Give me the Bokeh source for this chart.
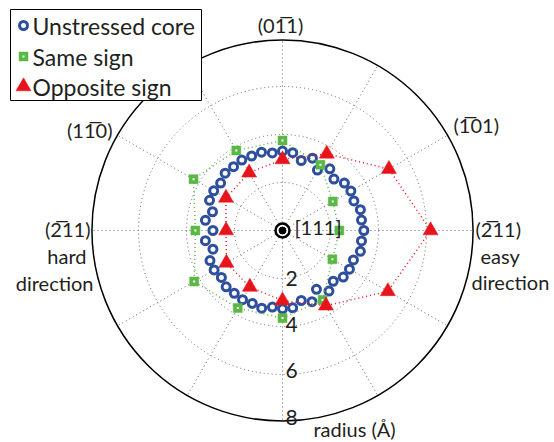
import numpy as np
from bokeh.plotting import figure
from bokeh.models import Range1d
from bokeh.core.properties import value
from bokeh.embed import file_html
from bokeh.resources import INLINE

# ---------------- data (angles in degrees, radii in Å) ----------------
core_angle = [0, 7.5, 15, 22.5, 30, 37.5, 45, 52.5, 60, 67.5, 75, 82.5,
              90, 97.5, 105, 112.5, 120, 127.5, 135, 142.5, 150, 157.5, 165, 172.5,
              180, 187.5, 195, 202.5, 210, 217.5, 225, 232.5, 240, 247.5, 255, 262.5,
              270, 277.5, 285, 292.5, 300, 307.5, 315, 322.5, 330, 337.5, 345, 352.5]
core_radius = [3.39, 3.32, 3.36, 3.22, 3.29, 3.25, 3.03, 3.24, 2.91, 3.26, 3.02, 3.27,
               3.31, 3.26, 3.38, 3.36, 3.39, 3.35, 3.38, 3.25, 3.31, 3.29, 3.02, 3.24,
               2.90, 3.24, 3.00, 3.27, 3.29, 3.21, 3.32, 3.30, 3.33, 3.29, 3.35, 3.22,
               3.26, 3.25, 3.02, 3.21, 2.83, 3.18, 2.99, 3.19, 3.22, 3.20, 3.36, 3.32]

sign_angle = [0, 30, 60, 90, 120, 150, 180, 210, 240, 270, 300, 330]
same_radius = [2.37, 2.42, 3.16, 3.75, 3.85, 4.28, 3.63, 4.25, 3.73, 3.65, 3.34, 2.40]
opp_radius = [6.17, 5.12, 3.69, 2.96, 2.78, 2.72, 2.35, 2.70, 2.72, 2.92, 3.62, 5.07]

ring_radii = [2, 4, 6]
ring_labels = ["2", "4", "6", "8"]
ring_label_r = [2, 4, 6, 8]
r_max = 8
spoke_angles = [0, 30, 60, 90, 120, 150, 180, 210, 240, 270, 300, 330]

legend_labels = ["Unstressed core", "Same sign", "Opposite sign"]

BLUE = "#2d4f9e"
GREEN = "#5cb846"
RED = "#e8141c"
TXT = "#231f20"
FONT = "Lato"

# ---------------- geometry helpers ----------------
W, H = 554, 442
CX, CY, S = 282, 230, 24.0   # centre (px) and px per Å


def px(xp):
    return (xp - CX) / S


def py(yp):
    return (CY - yp) / S


def polar(ang, r):
    a = np.radians(np.asarray(ang, dtype=float))
    r = np.asarray(r, dtype=float)
    return r * np.cos(a), r * np.sin(a)


p = figure(width=W, height=H, output_backend="svg", toolbar_location=None,
           x_range=Range1d(-CX / S, (W - CX) / S),
           y_range=Range1d(-(H - CY) / S, CY / S),
           min_border=0)
p.axis.visible = False
p.grid.visible = False
p.outline_line_color = None
p.background_fill_color = "white"

# grid rings and spokes
for rr in ring_radii:
    p.circle(x=0, y=0, radius=rr, fill_color=None, line_color="#666666",
             line_width=1, line_dash="1 3")
sx, sy = polar(spoke_angles, [r_max] * len(spoke_angles))
p.segment(x0=[0] * len(sx), y0=[0] * len(sy), x1=sx, y1=sy,
          line_color="#666666", line_width=1, line_dash="1 3")
p.circle(x=0, y=0, radius=r_max - 0.06, fill_color=None, line_color="black", line_width=1.5)

# unstressed core
bx, by = polar(core_angle, core_radius)
p.scatter(bx, by, marker="circle", size=8, fill_color="white",
          line_color=BLUE, line_width=3)

# same sign
gx, gy = polar(sign_angle, same_radius)
p.line(list(gx) + [gx[0]], list(gy) + [gy[0]], line_color=GREEN, line_width=1.5,
       line_dash="1 3")
p.scatter(gx, gy, marker="square", size=9, fill_color=GREEN, line_color=GREEN, line_width=0.5)
p.scatter(gx, gy, marker="square", size=2, fill_color="white", line_color=None)

# opposite sign
rx, ry = polar(sign_angle, opp_radius)
p.line(list(rx) + [rx[0]], list(ry) + [ry[0]], line_color=RED, line_width=1.5,
       line_dash="1 3")
p.scatter(rx, ry, marker="triangle", size=15, fill_color=RED, line_color=RED, line_width=0.5)

# centre marker [111]
p.scatter([0], [0], marker="circle", size=14, fill_color="white", line_color="black", line_width=2.5)
p.scatter([0], [0], marker="circle", size=7, fill_color="black", line_color="black")


def label(xp, yp, txt, align="left", size="20px"):
    p.text(x=[px(xp)], y=[py(yp)], text=[txt], text_align=align,
           text_baseline="middle", text_font=value(FONT), text_font_size=size,
           text_color=TXT)


label(294, 226, "[111]")

# direction labels
label(280, 24, "(01\u03051)", "center")
label(453, 124, "(1\u030501)")
label(475, 228, "(2\u030511)")
label(480, 255, "easy")
label(471, 281, "direction")
label(112, 129, "(11\u03050)", "right")
label(90, 228, "(2\u030511)", "right")
label(86, 255, "hard", "right")
label(93, 282, "direction", "right")

# radius labels
lx = [px(291)] * len(ring_label_r)
ly = [-(r) for r in ring_label_r]
p.text(x=lx, y=ly, text=ring_labels, text_align="center", text_baseline="middle",
       text_font=value(FONT), text_font_size="21px", text_color=TXT,
       y_offset=[0, -2, -4, -5])
label(313, 428, "radius (\u00c5)")

# legend
p.quad(left=[px(10)], right=[px(201)], top=[py(9)], bottom=[py(100)],
       fill_color="white", line_color="black", line_width=1)
rows = [25, 56, 86]
p.scatter([px(23)], [py(rows[0])], marker="circle", size=8, fill_color="white",
          line_color=BLUE, line_width=3)
p.scatter([px(23)], [py(rows[1])], marker="square", size=9, fill_color=GREEN,
          line_color=GREEN, line_width=0.5)
p.scatter([px(23)], [py(rows[1])], marker="square", size=2, fill_color="white", line_color=None)
p.scatter([px(23)], [py(rows[2])], marker="triangle", size=15, fill_color=RED,
          line_color=RED, line_width=0.5)
p.text(x=[px(32)] * 3, y=[py(r) for r in rows], text=legend_labels,
       text_align="left", text_baseline="middle", text_font=value(FONT),
       text_font_size="23px", text_color=TXT)

open("out.html", "w").write(file_html(p, INLINE))
